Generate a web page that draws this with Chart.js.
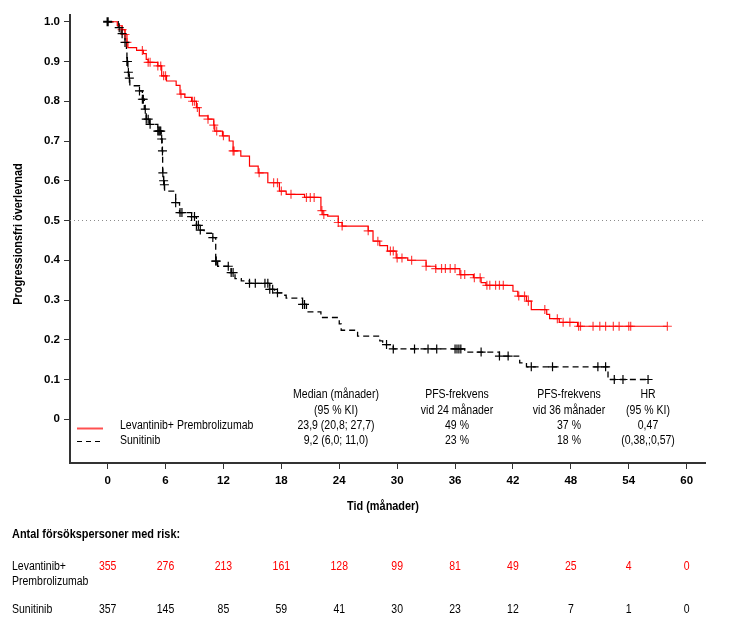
<!DOCTYPE html>
<html>
<head>
<meta charset="utf-8">
<script src="https://cdn.jsdelivr.net/npm/chart.js"></script>
<style>
  html, body { margin: 0; padding: 0; background: #fff; }
  #wrap { width: 730px; height: 634px; position: relative; }
</style>
</head>
<body>
<div id="wrap"><canvas id="pfs"></canvas></div>
<script>
// tick labels
const monthTicks = [0, 6, 12, 18, 24, 30, 36, 42, 48, 54, 60];
const survTicks = [0, 0.1, 0.2, 0.3, 0.4, 0.5, 0.6, 0.7, 0.8, 0.9, 1.0];

// Lenvatinib + Pembrolizumab: event times (months) and survival after each step
const lenvaTime = [0, 1.0, 1.5, 1.8, 2.0, 2.1, 3.0, 3.7, 4.0, 4.2, 5.2, 5.6, 6.1, 7.1, 7.5, 8.0, 8.7, 9.2, 9.5,
  10.4, 11.0, 11.1, 11.9, 12.6, 13.0, 13.8, 14.7, 15.6, 16.6, 17.8, 18.5, 20.4, 22.1, 22.3, 22.8, 23.9, 24.3,
  27.0, 27.5, 28.2, 29.0, 29.9, 31.1, 33.0, 34.0, 36.5, 37.9, 38.7, 39.2, 42.0, 42.5, 43.4, 43.9, 45.5, 45.8,
  46.8, 48.7, 58.0];
const lenvaSurv = [1.0, 0.99, 0.98, 0.968, 0.948, 0.935, 0.928, 0.92, 0.905, 0.898, 0.889, 0.864, 0.851, 0.84, 0.818, 0.81, 0.80, 0.784, 0.763,
  0.755, 0.74, 0.725, 0.713, 0.70, 0.675, 0.662, 0.637, 0.62, 0.595, 0.574, 0.566, 0.558, 0.525, 0.515, 0.511, 0.495, 0.486,
  0.474, 0.448, 0.437, 0.423, 0.406, 0.40, 0.385, 0.379, 0.364, 0.356, 0.344, 0.337, 0.322, 0.31, 0.297, 0.276, 0.264, 0.253,
  0.244, 0.234, 0.234];
const lenvaCensor = [1.5, 1.8, 2.0, 3.6, 4.2, 4.4, 5.2, 5.5, 5.8, 6.0, 7.6, 8.8, 9.0, 9.3, 10.4, 11.0, 11.3, 12.0, 13.0,
  13.1, 15.7, 17.2, 17.6, 18.0, 19.0, 20.6, 21.0, 21.4, 22.2, 22.4, 23.9, 24.3, 27.0, 28.0, 29.3, 29.6, 30.0, 30.5,
  31.5, 33.0, 34.0, 34.6, 35.0, 35.5, 36.0, 36.6, 37.0, 38.0, 38.6, 39.3, 39.6, 40.2, 40.6, 41.0, 42.6, 43.2, 43.6,
  45.3, 46.6, 47.2, 47.9, 48.8, 49.0, 50.3, 51.0, 51.6, 52.4, 53.0, 54.0, 54.2, 58.0];

// Sunitinib
const suniTime = [0, 1.1, 1.4, 1.8, 1.95, 2.0, 2.1, 2.2, 2.3, 3.3, 3.6, 3.8, 4.0, 4.35, 5.2, 5.55, 5.65, 5.7, 5.8, 5.85,
  5.9, 7.05, 7.45, 8.7, 9.2, 9.5, 10.0, 10.9, 11.2, 11.4, 12.8, 13.2, 13.85, 14.7, 16.8, 17.3, 18.2, 18.5, 20.2, 20.6,
  22.1, 24.0, 24.2, 25.9, 28.2, 28.5, 29.6, 37.0, 40.6, 42.7, 43.4, 51.85, 56.0];
const suniSurv = [1.0, 0.985, 0.97, 0.948, 0.93, 0.90, 0.873, 0.858, 0.839, 0.826, 0.805, 0.78, 0.755, 0.742, 0.725, 0.705, 0.675, 0.62, 0.60, 0.59,
  0.574, 0.545, 0.52, 0.51, 0.488, 0.476, 0.468, 0.457, 0.398, 0.385, 0.369, 0.354, 0.348, 0.342, 0.327, 0.318, 0.312, 0.305, 0.289, 0.27,
  0.256, 0.24, 0.224, 0.209, 0.197, 0.188, 0.177, 0.169, 0.159, 0.142, 0.132, 0.10, 0.10];
const suniCensor = [0, 1.2, 1.5, 1.8, 2.0, 2.05, 2.15, 2.25, 3.3, 3.6, 3.7, 3.9, 4.0, 4.2, 4.4, 5.2, 5.3, 5.4, 5.5, 5.6,
  5.68, 5.72, 5.8, 5.88, 7.05, 7.5, 7.7, 8.7, 9.0, 9.2, 9.4, 9.6, 10.9, 11.2, 11.25, 12.5, 12.8, 13.0, 14.7, 15.3,
  16.3, 16.6, 16.8, 17.1, 17.6, 20.2, 20.4, 28.9, 29.6, 31.8, 33.2, 34.1, 36.0, 36.2, 36.4, 36.6, 38.7, 40.6, 41.5,
  43.9, 46.1, 50.8, 51.6, 52.5, 53.4, 56.0];

// number at risk
const riskLenva = [355, 276, 213, 161, 128, 99, 81, 49, 25, 4, 0];
const riskSuni = [357, 145, 85, 59, 41, 30, 23, 12, 7, 1, 0];

const SANS = "'Liberation Sans', Arial, sans-serif";

function survAt(times, surv, t) {
  let s = surv[0];
  for (let i = 0; i < times.length; i++) {
    if (times[i] <= t) s = surv[i];
  }
  return s;
}

const toPoints = (times, surv) => times.map((t, i) => ({ x: t, y: surv[i] }));
const censorPoints = (cens, times, surv) => cens.map(t => ({ x: t, y: survAt(times, surv, t) }));

// Arial Narrow look: Liberation Sans squeezed horizontally
function narrowText(ctx, txt, x, y, align, angle) {
  ctx.save();
  ctx.translate(x, y);
  if (angle) ctx.rotate(angle);
  ctx.scale(0.84, 1);
  ctx.textAlign = align;
  ctx.fillText(txt, 0, 0);
  ctx.restore();
}

const extras = {
  id: 'extras',
  beforeDatasetsDraw(chart) {
    const { ctx, chartArea, scales } = chart;
    const y = scales.y.getPixelForValue(0.5);
    ctx.save();
    ctx.strokeStyle = '#8c8c8c';
    ctx.lineWidth = 1;
    ctx.setLineDash([1, 3]);
    ctx.beginPath();
    ctx.moveTo(chartArea.left, y);
    ctx.lineTo(chartArea.right, y);
    ctx.stroke();
    ctx.restore();
  },
  afterDraw(chart) {
    const { ctx, scales } = chart;
    ctx.save();
    ctx.fillStyle = '#000';
    ctx.textBaseline = 'middle';

    // axis titles
    ctx.font = 'bold 13px ' + SANS;
    narrowText(ctx, 'Tid (månader)', 383, 506, 'center');
    narrowText(ctx, 'Progressionsfri överlevnad', 18, 234, 'center', -Math.PI / 2);

    // summary table inside plot
    ctx.font = '12.5px ' + SANS;
    const cols = [
      [336, ['Median (månader)', '(95 % KI)', '23,9 (20,8; 27,7)', '9,2 (6,0; 11,0)']],
      [457, ['PFS-frekvens', 'vid 24 månader', '49 %', '23 %']],
      [569, ['PFS-frekvens', 'vid 36 månader', '37 %', '18 %']],
      [648, ['HR', '(95 % KI)', '0,47', '(0,38,;0,57)']]
    ];
    const rows = [395, 411, 425.5, 440.5];
    cols.forEach(([cx, lines]) => {
      lines.forEach((txt, i) => narrowText(ctx, txt, cx, rows[i], 'center'));
    });

    // legend
    narrowText(ctx, 'Levantinib+ Prembrolizumab', 120, 425.5, 'left');
    narrowText(ctx, 'Sunitinib', 120, 440.5, 'left');
    ctx.strokeStyle = '#ff5050';
    ctx.lineWidth = 2;
    ctx.beginPath();
    ctx.moveTo(77, 428.5);
    ctx.lineTo(103, 428.5);
    ctx.stroke();
    ctx.strokeStyle = '#000';
    ctx.lineWidth = 1.2;
    ctx.setLineDash([5, 4]);
    ctx.beginPath();
    ctx.moveTo(77, 441.5);
    ctx.lineTo(101, 441.5);
    ctx.stroke();
    ctx.setLineDash([]);

    // number at risk
    ctx.font = 'bold 13px ' + SANS;
    narrowText(ctx, 'Antal försökspersoner med risk:', 12, 534, 'left');
    ctx.font = '12.5px ' + SANS;
    narrowText(ctx, 'Levantinib+', 12, 567, 'left');
    narrowText(ctx, 'Prembrolizumab', 12, 582, 'left');
    narrowText(ctx, 'Sunitinib', 12, 610, 'left');
    monthTicks.forEach((m, i) => {
      const px = scales.x.getPixelForValue(m);
      ctx.fillStyle = '#ff0000';
      narrowText(ctx, String(riskLenva[i]), px, 567, 'center');
      ctx.fillStyle = '#000';
      narrowText(ctx, String(riskSuni[i]), px, 610, 'center');
    });
    ctx.restore();
  }
};

new Chart(document.getElementById('pfs'), {
  type: 'line',
  data: {
    datasets: [
      {
        type: 'scatter',
        label: 'Sunitinib censored',
        data: censorPoints(suniCensor, suniTime, suniSurv),
        pointStyle: 'cross',
        pointRadius: 4.5,
        borderColor: '#000',
        borderWidth: ctx => ctx.dataIndex === 0 ? 2.2 : 1.2
      },
      {
        type: 'scatter',
        label: 'Lenvatinib censored',
        data: censorPoints(lenvaCensor, lenvaTime, lenvaSurv),
        pointStyle: 'cross',
        pointRadius: 4.5,
        borderColor: 'rgba(255, 0, 0, 0.75)',
        borderWidth: 1.2
      },
      {
        label: 'Levantinib+ Prembrolizumab',
        data: toPoints(lenvaTime, lenvaSurv),
        stepped: 'before',
        borderColor: '#ff0000',
        borderWidth: 1.2,
        pointRadius: 0,
        fill: false
      },
      {
        label: 'Sunitinib',
        data: toPoints(suniTime, suniSurv),
        stepped: 'before',
        borderColor: '#000',
        borderDash: [6, 4],
        borderWidth: 1.3,
        pointRadius: 0,
        fill: false
      }
    ]
  },
  options: {
    responsive: true,
    maintainAspectRatio: false,
    animation: false,
    layout: { padding: { left: 0, right: 25, top: 15, bottom: 0 } },
    plugins: {
      legend: { display: false },
      tooltip: { enabled: false }
    },
    scales: {
      x: {
        type: 'linear',
        min: -3.9,
        max: 61.9,
        afterBuildTicks: axis => { axis.ticks = monthTicks.map(v => ({ value: v })); },
        afterFit: axis => { axis.height = 171; },
        ticks: {
          color: '#000',
          padding: 5,
          font: { family: SANS, size: 11.5, weight: 'bold' }
        },
        grid: { drawOnChartArea: false, drawTicks: true, tickLength: 6, color: '#333' },
        border: { display: true, color: '#333', width: 2 }
      },
      y: {
        min: -0.11,
        max: 1.017,
        afterBuildTicks: axis => { axis.ticks = survTicks.map(v => ({ value: v })); },
        afterFit: axis => { axis.width = 70; },
        ticks: {
          color: '#000',
          padding: 4,
          font: { family: SANS, size: 11.5, weight: 'bold' },
          callback: v => v === 0 ? '0' : v.toFixed(1)
        },
        grid: { drawOnChartArea: false, drawTicks: true, tickLength: 6, color: '#333' },
        border: { display: true, color: '#333', width: 2 }
      }
    }
  },
  plugins: [extras]
});
</script>
</body>
</html>
